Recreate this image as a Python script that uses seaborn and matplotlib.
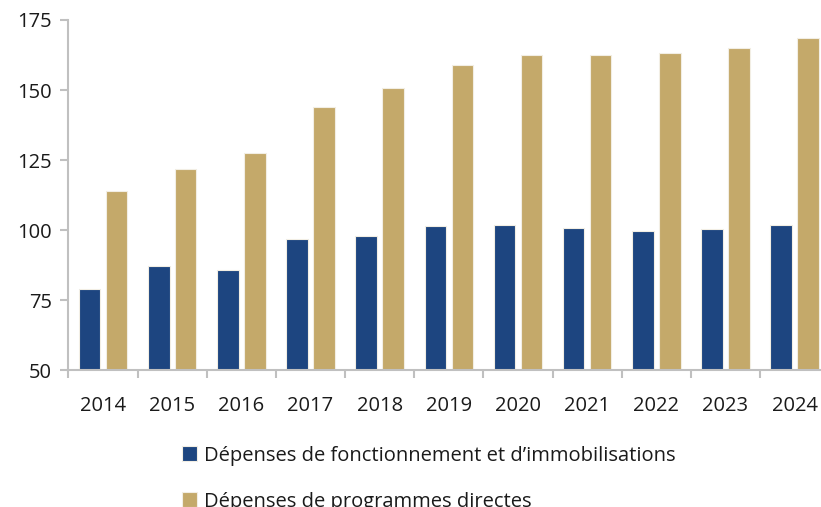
import numpy as np
import pandas as pd
import matplotlib
matplotlib.use("Agg")
import matplotlib.pyplot as plt
import seaborn as sb

# chart data
years = ["2014", "2015", "2016", "2017", "2018", "2019", "2020", "2021", "2022", "2023", "2024"]
fonctionnement = [78.8, 87.1, 85.6, 96.7, 97.9, 101.4, 101.8, 100.6, 99.5, 100.2, 101.7]
programmes = [114.0, 121.9, 127.4, 143.9, 150.7, 158.9, 162.5, 162.5, 163.1, 165.1, 168.7]
series_names = ["Dépenses de fonctionnement et d\u2019immobilisations", "Dépenses de programmes directes"]
colors = ["#1d4580", "#c4a96a"]

df = pd.DataFrame({"annee": years * 2,
                   "valeur": fonctionnement + programmes,
                   "serie": [series_names[0]] * len(years) + [series_names[1]] * len(years)})

sb.set_style("white")
plt.rcParams["font.family"] = ["Open Sans", "DejaVu Sans"]

fig = plt.figure(figsize=(8.21, 5.07), dpi=100)
ax = fig.add_axes([0.0834, 0.270, 0.9266, 0.6906])

sb.barplot(data=df, x="annee", y="valeur", hue="serie", palette=colors, saturation=1,
           width=0.78, gap=0.2, edgecolor="#f2eee4", linewidth=0.8, ax=ax)

ax.set_ylim(50, 175)
ax.set_yticks([50, 75, 100, 125, 150, 175])
ax.set_xlim(-0.5, len(years) - 0.5)
ax.set_xlabel("")
ax.set_ylabel("")

for s in ["top", "right"]:
    ax.spines[s].set_visible(False)
for s in ["left", "bottom"]:
    ax.spines[s].set_color("#c0c0c0")
    ax.spines[s].set_linewidth(1.5)

# x ticks sit between the categories, labels centred
ax.set_xticks(np.arange(len(years) + 1) - 0.5, minor=False)
ax.set_xticklabels([])
ax.set_xticks(np.arange(len(years)), minor=True)
ax.set_xticklabels(years, minor=True)
ax.tick_params(axis="x", which="major", length=6, width=1.5, color="#c0c0c0", direction="out")
ax.tick_params(axis="x", which="minor", length=0, labelsize=14.5, pad=19, colors="#1a1a1a")
ax.tick_params(axis="y", length=6, width=1.5, color="#c0c0c0", labelsize=14.5, pad=6, labelcolor="#1a1a1a")
ax.tick_params(bottom=True, left=True, which="major")

handles, labels = ax.get_legend_handles_labels()
ax.get_legend().remove()
fig.legend(handles, labels, loc="upper left", bbox_to_anchor=(0.222, 0.121),
           frameon=False, fontsize=14.5, handlelength=0.75, handleheight=0.75,
           handletextpad=0.35, labelspacing=1.3, borderpad=0, borderaxespad=0,
           labelcolor="#1a1a1a")

fig.savefig("out.png", dpi=100)
